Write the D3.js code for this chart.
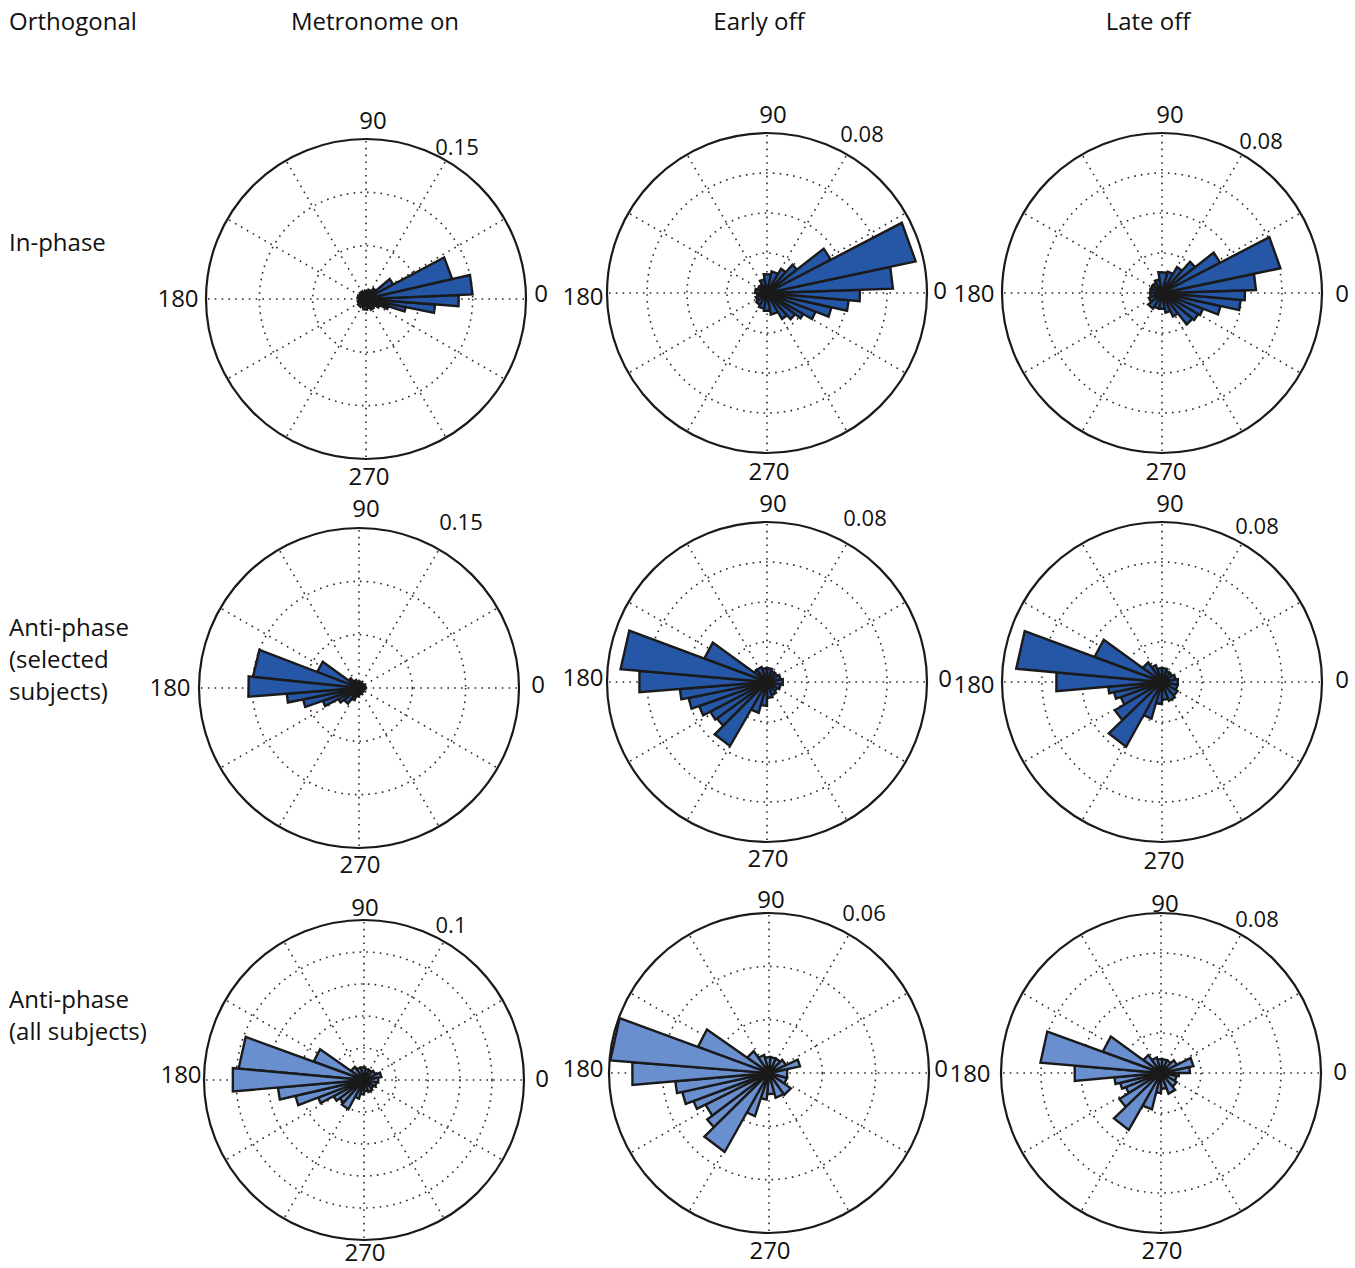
<!DOCTYPE html>
<html><head><meta charset="utf-8">
<script src="https://cdn.jsdelivr.net/npm/d3@7"></script>
<style>
body{margin:0;background:#fff}
svg text{font-family:"Open Sans","Noto Sans",sans-serif;fill:#111}
</style>
</head><body>
<svg id="chart" width="1355" height="1268"></svg>
<script>
// ---------- DATA ----------
const cornerTitle = "Orthogonal";
const columnTitles = ["Metronome on", "Early off", "Late off"];
const rowTitles = [["In-phase"], ["Anti-phase", "(selected", "subjects)"], ["Anti-phase", "(all subjects)"]];
const angleTicks = [0, 30, 60, 90, 120, 150, 180, 210, 240, 270, 300, 330];
const angleLabels = ["0", "90", "180", "270"];
// radial maxima per panel (row-major) and ring ticks
const radialMax = [0.15, 0.08, 0.08, 0.15, 0.08, 0.08, 0.1, 0.06, 0.08];
const radialMaxLabels = ["0.15", "0.08", "0.08", "0.15", "0.08", "0.08", "0.1", "0.06", "0.08"];
const ringTicks = [[0.05, 0.1], [0.02, 0.04, 0.06], [0.02, 0.04, 0.06], [0.05, 0.1], [0.02, 0.04, 0.06], [0.02, 0.04, 0.06],
                   [0.02, 0.04, 0.06, 0.08], [0.02, 0.04], [0.02, 0.04, 0.06]];

// bins: [from angle (deg), to angle (deg), relative frequency]
const inPhaseMetronome = [[40,55,0.012],[28,40,0.029],[13,28,0.083],[2.5,13,0.1],[-4.5,2.5,0.087],[-11.5,-4.5,0.065],[-18,-11.5,0.038],[-25,-18,0.022],[-35,-25,0.014],[-50,-35,0.01],
  [55,75,0.009],[75,95,0.008],[95,115,0.007],[115,135,0.008],[135,155,0.007],[155,175,0.008],[175,195,0.007],[195,215,0.008],[215,235,0.009],[235,255,0.008],[255,275,0.01],[275,295,0.009],[295,310,0.011]];
const inPhaseEarly = [[-60,-48,0.015],[-48,-37,0.0176],[-37,-30,0.021],[-30,-21,0.026],[-21,-12.5,0.033],[-12.5,-5,0.041],[-5,2,0.0465],[2,12,0.063],[12,27.5,0.076],[27.5,38,0.036],[38,48,0.019],[48,60,0.014],
  [60,78,0.011],[78,100,0.0095],[100,120,0.007],[120,140,0.005],[140,160,0.005],[160,180,0.006],[180,200,0.005],[200,220,0.006],[220,240,0.007],[240,260,0.008],[260,280,0.009],[280,300,0.011]];
const inPhaseLate = [[-65,-52,0.013],[-52,-40,0.02],[-40,-30,0.021],[-30,-21,0.022],[-21,-12.5,0.03],[-12.5,-5,0.0395],[-5,1.8,0.0415],[1.8,11.8,0.047],[11.8,27.5,0.0605],[27.5,38,0.0328],[38,48,0.021],[48,60,0.015],
  [60,75,0.011],[75,100,0.0105],[100,120,0.007],[120,140,0.006],[140,160,0.006],[160,180,0.006],[180,200,0.006],[200,220,0.007],[220,240,0.009],[240,260,0.008],[260,280,0.008],[280,295,0.01]];
const antiSelMetronome = [[130,144,0.012],[144,159,0.042],[159,174,0.1],[174,184.5,0.104],[184.5,191.5,0.068],[191.5,199.5,0.0535],[199.5,208,0.036],[208,218,0.022],[218,235,0.018],[235,250,0.012],[250,270,0.008],
  [270,290,0.006],[290,310,0.005],[310,330,0.005],[330,350,0.005],[350,370,0.006],[10,30,0.006],[30,50,0.005],[50,70,0.005],[70,90,0.006],[90,110,0.006],[110,130,0.008]];
const antiSelEarly = [[130,144,0.008],[144,159.5,0.0335],[159.5,175,0.0735],[175,184.6,0.064],[184.6,191.5,0.0437],[191.5,199.5,0.04],[199.5,207.5,0.036],[207.5,216,0.032],[216,225,0.031],[225,240,0.037],[240,255,0.016],[255,270,0.012],
  [270,290,0.008],[290,310,0.007],[310,330,0.006],[330,350,0.007],[350,370,0.008],[10,30,0.007],[30,50,0.006],[50,70,0.006],[70,90,0.007],[90,110,0.007],[110,130,0.008]];
const antiSelLate = [[125,144,0.012],[144,159.7,0.036],[159.7,174.8,0.0732],[174.8,185,0.053],[185,192,0.027],[192,200,0.0245],[200,211,0.022],[211,224,0.0275],[224,241,0.037],[241,254,0.019],[254,270,0.011],
  [270,290,0.009],[290,310,0.01],[310,330,0.009],[330,350,0.008],[350,370,0.008],[10,30,0.007],[30,50,0.006],[50,70,0.006],[70,90,0.007],[90,110,0.007],[110,125,0.009]];
const antiAllMetronome = [[125,145,0.01],[145,160,0.0335],[160,174.8,0.0787],[174.8,185,0.0823],[185,193,0.054],[193,201,0.044],[201,208,0.0307],[208,217,0.0215],[217,228,0.019],[228,242,0.0207],[242,255,0.012],[255,270,0.009],
  [270,290,0.007],[290,310,0.008],[310,330,0.007],[330,350,0.008],[350,370,0.009],[10,25,0.011],[25,45,0.008],[45,65,0.007],[65,85,0.007],[85,105,0.008],[105,125,0.008]];
const antiAllEarly = [[125,145,0.01],[145,159.8,0.0284],[159.8,175.5,0.0597],[175.5,185,0.0514],[185,192.3,0.0353],[192.3,200.3,0.0333],[200.3,206.5,0.0302],[206.5,217,0.0266],[217,224.5,0.029],[224.5,240.7,0.034],[240.7,252,0.017],[252,265,0.01],
  [265,285,0.008],[285,305,0.0096],[305,325,0.01],[325,345,0.007],[345,372,0.007],[12,25,0.0119],[25,45,0.007],[45,65,0.006],[65,85,0.006],[85,105,0.006],[105,125,0.007]];
const antiAllLate = [[125,144,0.011],[144,160,0.031],[160,175.1,0.0605],[175.1,185.3,0.0433],[185.3,193.5,0.0234],[193.5,202,0.021],[202,212,0.019],[212,224,0.0245],[224,240.5,0.0327],[240.5,256,0.0187],[256,270,0.01],
  [270,290,0.008],[290,310,0.011],[310,330,0.009],[330,350,0.008],[350,360,0.009],[0,12,0.0145],[12,27,0.0166],[27,45,0.009],[45,65,0.007],[65,85,0.007],[85,105,0.007],[105,125,0.008]];

const panelBins = [inPhaseMetronome, inPhaseEarly, inPhaseLate, antiSelMetronome, antiSelEarly, antiSelLate, antiAllMetronome, antiAllEarly, antiAllLate];

// ---------- LAYOUT ----------
const svg = d3.select("#chart");
const R = 160;
const centers = [[366,299],[767,293],[1162,293],[359,688],[767,682],[1162,682],[364,1080],[769,1073],[1161,1073]];
// label offsets per panel: [0, 90, 180, 270, rmax] as [dx,dy]
const labelOffsets = [
  [[175,-7],[7,-180],[-188,-2],[3,176],[91,-153]],
  [[173,-4],[6,-180],[-184,2],[2,177],[95,-160]],
  [[180,-1],[8,-180],[-188,-1],[4,177],[99,-153]],
  [[179,-5],[7,-181],[-189,-2],[1,175],[102,-167]],
  [[178,-5],[6,-180],[-184,-6],[1,175],[98,-165]],
  [[180,-4],[8,-180],[-188,1],[2,177],[95,-157]],
  [[178,-3],[1,-174],[-183,-7],[1,171],[87,-156]],
  [[172,-6],[2,-175],[-186,-6],[1,176],[95,-161]],
  [[179,-3],[4,-171],[-191,-1],[1,176],[96,-155]]
];
const rowFill = ["#2657a6", "#2657a6", "#6a8fcf"];

svg.append("text").attr("x", 9).attr("y", 20).attr("dominant-baseline", "central")
  .style("font-size", "24px").text(cornerTitle);
const colX = [375, 759, 1148];
columnTitles.forEach((t, i) => svg.append("text").attr("x", colX[i]).attr("y", 20)
  .attr("text-anchor", "middle").attr("dominant-baseline", "central").style("font-size", "24px").text(t));
const rowY = [241, 626, 998];
rowTitles.forEach((lines, i) => lines.forEach((l, j) => svg.append("text").attr("x", 9).attr("y", rowY[i] + j * 32)
  .attr("dominant-baseline", "central").style("font-size", "24px").text(l)));

const angle = d3.scaleLinear().domain([0, 360]).range([0, 2 * Math.PI]);
const pt = (deg, r) => [r * Math.cos(angle(deg)), -r * Math.sin(angle(deg))];

panelBins.forEach((bins, p) => {
  const [cx, cy] = centers[p];
  const g = svg.append("g").attr("transform", `translate(${cx},${cy})`);
  const rs = d3.scaleLinear().domain([0, radialMax[p]]).range([0, R]);
  // dotted rings
  g.selectAll("circle.ring").data(ringTicks[p]).join("circle")
    .attr("r", d => rs(d)).attr("fill", "none").attr("stroke", "#2a2a2a")
    .attr("stroke-width", 1.6).attr("stroke-dasharray", "1.6,5.2");
  // dotted spokes
  g.selectAll("line.spoke").data(angleTicks).join("line")
    .attr("x1", 0).attr("y1", 0)
    .attr("x2", d => pt(d, R)[0]).attr("y2", d => pt(d, R)[1])
    .attr("stroke", "#2a2a2a").attr("stroke-width", 1.6).attr("stroke-dasharray", "1.6,5.2");
  // bars (rose triangles)
  const sorted = bins.slice().sort((a, b) => a[2] - b[2]);
  g.selectAll("path.bar").data(sorted).join("path")
    .attr("d", d => {
      const r = rs(d[2]);
      const a = pt(d[0], r), b = pt(d[1], r);
      const path = d3.path();
      path.moveTo(0, 0); path.lineTo(a[0], a[1]); path.lineTo(b[0], b[1]); path.closePath();
      return path.toString();
    })
    .attr("fill", rowFill[Math.floor(p / 3)]).attr("stroke", "#1a1a1a")
    .attr("stroke-width", 2.4).attr("stroke-linejoin", "miter");
  // outer circle
  g.append("circle").attr("r", R).attr("fill", "none").attr("stroke", "#1a1a1a").attr("stroke-width", 2.2);
  // labels
  const off = labelOffsets[p];
  angleLabels.forEach((t, i) => g.append("text").attr("x", off[i][0]).attr("y", off[i][1])
    .attr("text-anchor", "middle").attr("dominant-baseline", "central").style("font-size", "24px").text(t));
  g.append("text").attr("x", off[4][0]).attr("y", off[4][1]).attr("text-anchor", "middle").attr("dominant-baseline", "central")
    .style("font-size", "22px").text(radialMaxLabels[p]);
});
</script>
</body></html>
